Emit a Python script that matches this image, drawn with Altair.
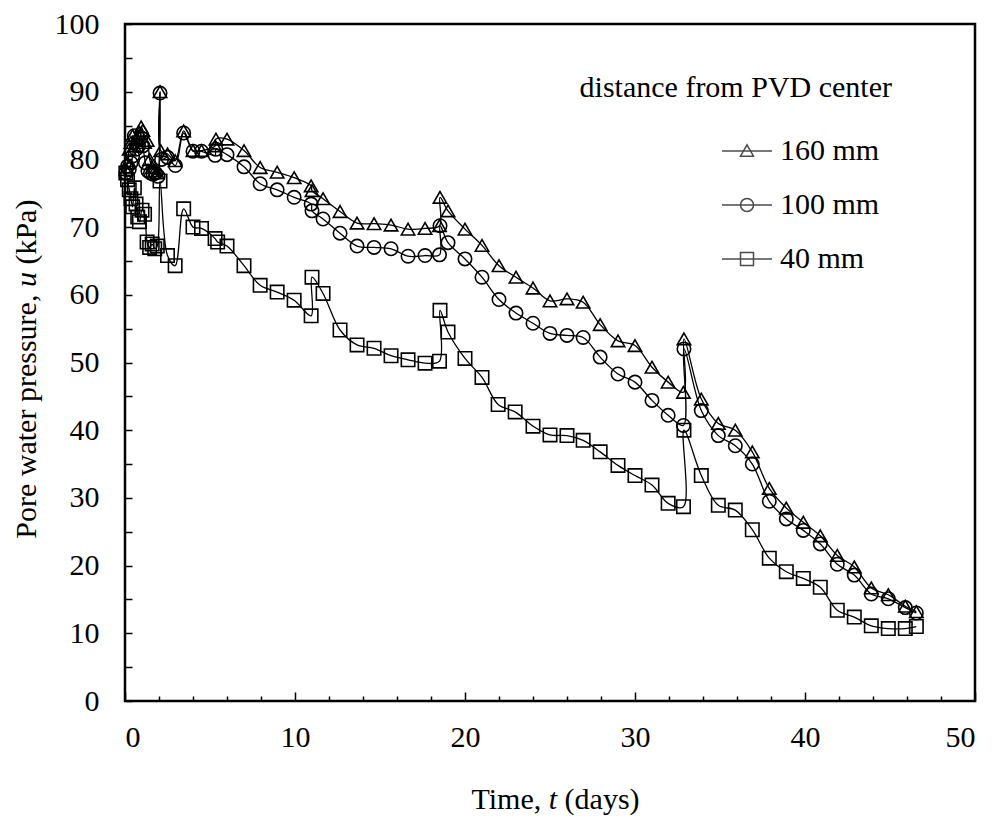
import altair as alt
import pandas as pd

series = ["160 mm", "100 mm", "40 mm"]

t160 = [0.05, 0.15, 0.25, 0.35, 0.45, 0.55, 0.7, 0.85, 0.95, 1.05, 1.15, 1.3, 1.45, 1.6, 1.75, 1.9,
        2.06, 2.1, 2.5, 2.95, 3.45, 4.0, 4.5, 5.3, 5.35, 6.0, 7.0, 7.95, 8.95, 9.95, 10.95, 11.0,
        11.65, 12.65, 13.65, 14.65, 15.65, 16.65, 17.65, 18.5, 18.53, 19.0, 20.0, 21.0, 22.0, 23.0,
        24.0, 25.0, 26.0, 26.95, 27.95, 29.0, 30.0, 31.0, 31.95, 32.85, 32.88, 33.9, 34.9, 35.9,
        36.9, 37.9, 38.9, 39.9, 40.9, 41.9, 42.9, 43.9, 44.9, 45.9, 46.55]
u160 = [78.5, 79.5, 81.5, 82.5, 83.5, 82.0, 83.0, 84.0, 84.8, 84.3, 82.5, 82.8, 80.0, 78.8, 78.3, 78.0,
        90.0, 81.3, 80.8, 79.8, 84.2, 81.3, 81.3, 82.0, 83.0, 83.0, 81.3, 78.8, 78.1, 77.3, 76.1, 75.4,
        74.2, 72.3, 70.6, 70.5, 70.3, 69.7, 69.8, 70.2, 74.4, 72.4, 69.7, 67.3, 64.3, 62.6,
        61.0, 59.1, 59.4, 58.9, 55.6, 53.2, 52.5, 49.3, 47.1, 45.6, 53.5, 44.6, 41.0, 40.0,
        36.8, 31.4, 28.5, 26.4, 24.4, 21.5, 19.8, 16.7, 15.7, 14.0, 13.2]

t100 = [0.05, 0.15, 0.25, 0.35, 0.45, 0.55, 0.65, 0.8, 0.95, 1.05, 1.2, 1.35, 1.5, 1.65, 1.8, 1.95,
        2.06, 2.15, 2.5, 2.96, 3.45, 4.0, 4.5, 5.3, 5.35, 6.0, 7.0, 7.95, 8.95, 9.95, 10.95, 11.0,
        11.65, 12.65, 13.65, 14.65, 15.65, 16.65, 17.65, 18.5, 18.53, 19.0, 20.0, 21.0, 22.0, 23.0,
        24.0, 25.0, 26.0, 26.95, 27.95, 29.0, 30.0, 31.0, 31.95, 32.85, 32.88, 33.9, 34.9, 35.9,
        36.9, 37.9, 38.9, 39.9, 40.9, 41.9, 42.9, 43.9, 44.9, 45.9, 46.55]
u100 = [78.0, 79.0, 78.5, 79.5, 80.5, 83.5, 81.5, 82.0, 83.2, 82.0, 79.5, 78.3, 78.0, 77.8, 78.0, 77.5,
        89.8, 80.0, 80.3, 79.1, 83.9, 81.2, 81.2, 80.6, 81.5, 80.7, 78.9, 76.4, 75.5, 74.4, 73.4, 72.4,
        71.2, 69.1, 67.2, 67.0, 66.8, 65.7, 65.8, 65.9, 70.2, 67.7, 65.3, 62.6, 59.3, 57.3,
        55.8, 54.3, 54.0, 53.7, 50.8, 48.3, 47.1, 44.4, 42.2, 40.7, 52.0, 42.9, 39.2, 37.7,
        35.0, 29.5, 26.9, 25.2, 23.2, 20.2, 18.6, 15.8, 15.1, 13.8, 13.0]

t40 = [0.05, 0.15, 0.25, 0.35, 0.45, 0.55, 0.65, 0.75, 0.85, 1.0, 1.15, 1.3, 1.45, 1.6, 1.75, 1.9,
       2.06, 2.5, 2.95, 3.45, 4.0, 4.5, 5.3, 5.45, 6.0, 7.0, 7.95, 8.95, 9.95, 10.95, 11.0,
       11.65, 12.65, 13.65, 14.65, 15.65, 16.65, 17.65, 18.5, 18.53, 19.0, 20.0, 21.0, 21.95, 22.95,
       24.0, 25.0, 26.0, 26.95, 27.95, 29.0, 30.0, 31.0, 31.95, 32.85, 32.88, 33.9, 34.9, 35.9,
       36.9, 37.9, 38.9, 39.9, 40.9, 41.9, 42.9, 43.9, 44.9, 45.9, 46.55]
u40 = [78.0, 77.0, 75.5, 74.2, 73.0, 75.8, 73.4, 71.5, 70.8, 72.5, 71.9, 67.8, 67.0, 67.5, 66.8, 67.2,
       76.8, 65.8, 64.3, 72.7, 70.0, 69.8, 68.3, 67.8, 67.2, 64.3, 61.4, 60.4, 59.2, 56.9, 62.6,
       60.2, 54.8, 52.6, 52.1, 51.0, 50.4, 49.9, 50.2, 57.7, 54.5, 50.6, 47.8, 43.8, 42.7,
       40.6, 39.3, 39.2, 38.5, 36.8, 34.8, 33.3, 31.9, 29.2, 28.7, 40.0, 33.3, 28.9, 28.2,
       25.3, 21.1, 19.1, 18.1, 16.8, 13.4, 12.4, 11.1, 10.7, 10.7, 11.0]

x_ticks = [0, 10, 20, 30, 40, 50]
y_ticks = [0, 10, 20, 30, 40, 50, 60, 70, 80, 90, 100]
x_minor = list(range(0, 51, 2))
y_minor = list(range(0, 101, 5))
legend_title = "distance from PVD center"
x_title_parts = ["Time,", "t", "(days)"]
y_title_parts = ["Pore water pressure,", "u", "(kPa)"]

rows = []
for name, ts, us in [(series[0], t160, u160), (series[1], t100, u100), (series[2], t40, u40)]:
    for i, (t, u) in enumerate(zip(ts, us)):
        rows.append({"series": name, "t": t, "u": u, "i": i})
df = pd.DataFrame(rows)

W, H = 850, 677
FONT = "Liberation Serif, Times New Roman, Times, DejaVu Serif, serif"
FS = 30
EM = FS
SP = 0.25 * EM

x_scale = alt.Scale(domain=[0, 50], nice=False, zero=False)
y_scale = alt.Scale(domain=[0, 100], nice=False, zero=False)
shape_scale = alt.Scale(domain=series, range=["triangle-up", "circle", "square"])
legend_shapes = alt.Scale(domain=series, range=[
    "M-3.85,0H3.85M0,-0.95L1,0.8L-1,0.8Z",
    "M-3.85,0H3.85M-1,0A1,1,0,1,1,1,0A1,1,0,1,1,-1,0Z",
    "M-3.85,0H3.85M-1,-1H1V1H-1Z",
])

x_axis = alt.Axis(title=None, values=x_ticks, ticks=False, tickSize=0, domain=False,
                  grid=False, labelFont=FONT, labelFontSize=FS, labelColor="black", labelPadding=21)
y_axis = alt.Axis(title=None, values=y_ticks, ticks=False, tickSize=0,
                  domain=False, grid=False, labelFont=FONT, labelFontSize=FS, labelColor="black",
                  labelPadding=26)

legend = alt.Legend(orient="none", legendX=607, legendY=112, title=None, labelFont=FONT,
                    labelFontSize=FS, labelColor="black", symbolSize=169, symbolStrokeWidth=1.5,
                    symbolStrokeColor="black", symbolFillColor="transparent", labelOffset=18,
                    rowPadding=24, padding=0)

base = alt.Chart(df)

lines = base.mark_line(color="black", strokeWidth=1.3, interpolate="catmull-rom").encode(
    x=alt.X("t:Q", scale=x_scale, axis=x_axis),
    y=alt.Y("u:Q", scale=y_scale, axis=y_axis),
    detail="series:N",
    order="i:Q",
)

points = base.mark_point(filled=False, color="black", strokeWidth=1.6, size=180, opacity=1).encode(
    x=alt.X("t:Q", scale=x_scale, axis=x_axis),
    y=alt.Y("u:Q", scale=y_scale, axis=y_axis),
    shape=alt.Shape("series:N", scale=shape_scale, legend=None),
)

legend_layer = base.transform_filter("datum.t < -1").mark_point(
    filled=False, color="black", strokeWidth=1.5
).encode(shape=alt.Shape("series:N", scale=legend_shapes, legend=legend))


def txt(s, x, y, align, style="normal", angle=0, baseline="middle"):
    return alt.Chart(pd.DataFrame({"txt": [s]})).mark_text(
        align=align, baseline=baseline, font=FONT, fontSize=FS, color="black",
        fontStyle=style, angle=angle
    ).encode(x=alt.value(x), y=alt.value(y), text="txt:N")


title_txt = txt(legend_title, 767, 73, "right", baseline="alphabetic")

# x axis title: "Time, t (days)" with italic t, centred at x=430
xw1, xwt, xw3 = 2.361 * EM, 0.278 * EM, 2.499 * EM
x_total = xw1 + SP + xwt + SP + xw3
x_a = 430 - x_total / 2 + xw1
x_ty = H + 99
xt1 = txt(x_title_parts[0], x_a, x_ty, "right")
xt2 = txt(x_title_parts[1], x_a + SP + xwt / 2, x_ty, "center", style="italic")
xt3 = txt(x_title_parts[2], x_a + SP + xwt + SP, x_ty, "left")

# y axis title: "Pore water pressure, u (kPa)" with italic u, rotated (reads upward)
yw1, ywu, yw3 = 8.136 * EM, 0.5 * EM, 2.61 * EM
y_total = yw1 + SP + ywu + SP + yw3
y_a = H / 2 + y_total / 2 - yw1
y_tx = -98
yt1 = txt(y_title_parts[0], y_tx, y_a, "right", angle=270)
yt2 = txt(y_title_parts[1], y_tx, y_a - SP - ywu / 2, "center", style="italic", angle=270)
yt3 = txt(y_title_parts[2], y_tx, y_a - SP - ywu - SP, "left", angle=270)

inner = alt.layer(lines, points, legend_layer, title_txt, xt1, xt2, xt3, yt1, yt2, yt3
                  ).resolve_scale(shape="independent")

tick_layer = base.mark_point(opacity=0, size=1).encode(
    x=alt.X("t:Q", scale=x_scale,
            axis=alt.Axis(orient="top", offset=-H, labels=False, domain=False, title=None, grid=False,
                          values=x_minor, tickColor="black", tickWidth=1.5,
                          tickSize={"condition": {"test": "datum.value % 10 === 0", "value": 9},
                                    "value": 5})),
    y=alt.Y("u:Q", scale=y_scale,
            axis=alt.Axis(orient="right", offset=-W, labels=False, domain=False, title=None, grid=False,
                          values=y_minor, tickColor="black", tickWidth=1.5, tickSize=7)),
)

chart = alt.layer(inner, tick_layer).resolve_axis(x="independent", y="independent").properties(
    width=W, height=H,
    autosize=alt.AutoSizeParams(type="none"),
    padding={"left": 117, "top": 16, "right": 10, "bottom": 114},
    background="white",
).configure_view(stroke="black", strokeWidth=2.5)

chart.save("out.html", embed_options={"renderer": "svg", "actions": False})
